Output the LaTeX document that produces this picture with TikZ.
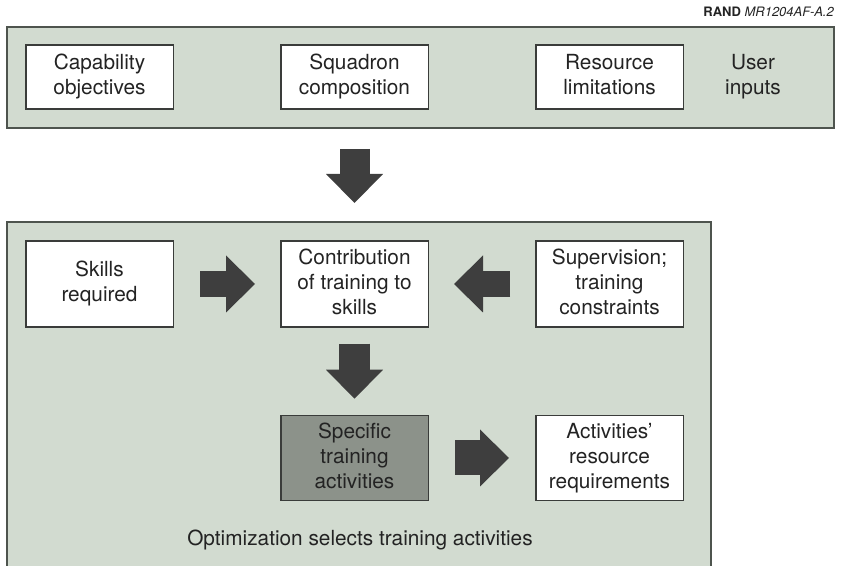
\documentclass[tikz,border=0pt]{standalone}
\usepackage{fontspec}
\setmainfont{TeX Gyre Heros}
\usetikzlibrary{positioning,arrows.meta}

\definecolor{panelfill}{RGB}{210,219,208}
\definecolor{panelline}{RGB}{78,84,78}
\definecolor{boxline}{RGB}{58,60,58}
\definecolor{arrowfill}{RGB}{62,62,62}
\definecolor{activefill}{RGB}{140,146,138}
\definecolor{inktext}{RGB}{35,35,35}

\begin{document}
\begin{tikzpicture}[x=0.5pt, y=-0.5pt, node distance=53pt,
        every node/.style={text=inktext, font=\fontsize{10.4}{12.5}\selectfont},
        panel/.style={draw=panelline, line width=1pt, fill=panelfill, rectangle, anchor=north west, inner sep=0pt},
        evenlines/.style={execute at begin node=\vphantom{Ag}, execute at end node=\vphantom{Ag}},
        stepbox/.style={draw=boxline, line width=0.75pt, fill=white, rectangle, align=center, minimum width=73.75pt, inner sep=1pt, evenlines},
        fatarrow/.style={draw=arrowfill, line width=#1, -{Triangle[width=28.5pt, length=14.5pt, line width=0pt]}}
    ]
            \useasboundingbox (0,0) rectangle (842,566);
            \node[panel, minimum width=413.5pt, minimum height=50.5pt] (inputs) at (6,26) {};
            \node[panel, minimum width=352pt, minimum height=175.5pt] (optim) at (6,221) {};

            \node[anchor=base east, font=\fontsize{6.5}{7}\selectfont] (tag) at (841,17) {\textbf{RAND} \textit{MR1204AF-A.2}};

            \node[stepbox, minimum height=32pt] (cap) at (99.5,77) {Capability\\objectives};
            \node[stepbox, minimum height=32pt, right=of cap] (squad) {Squadron\\composition};
            \node[stepbox, minimum height=32pt, right=of squad] (limit) {Resource\\limitations};
            \node[align=center, evenlines] (user) at (753,77) {User\\inputs};

            \node[stepbox, minimum height=43pt] (skills) at (99.5,284) {Skills\\required};
            \node[stepbox, minimum height=43pt, right=of skills] (contrib) {Contribution\\of training to\\skills};
            \node[stepbox, minimum height=43pt, right=of contrib] (superv) {Supervision;\\training\\constraints};
            \node[stepbox, minimum height=42.5pt, fill=activefill, below=43.5pt of contrib] (spec) {Specific\\training\\activities};
            \node[stepbox, minimum height=42.5pt, right=of spec] (need) {Activities'\\resource\\requirements};

            \node[anchor=base] (note) at (360,546) {Optimization selects training activities};

            \draw[fatarrow=15pt, shorten <=10pt, shorten >=9pt] (squad |- inputs.south) -- (squad |- optim.north);
            \draw[fatarrow=13pt, shorten <=13pt, shorten >=12.5pt] (skills) -- (contrib);
            \draw[fatarrow=13pt, shorten <=12.5pt, shorten >=12.5pt] (superv) -- (contrib);
            \draw[fatarrow=15.5pt, shorten <=8pt, shorten >=8pt] (contrib) -- (spec);
            \draw[fatarrow=17.5pt, shorten <=13pt, shorten >=13pt] (spec) -- (need);
        \end{tikzpicture}
\end{document}
